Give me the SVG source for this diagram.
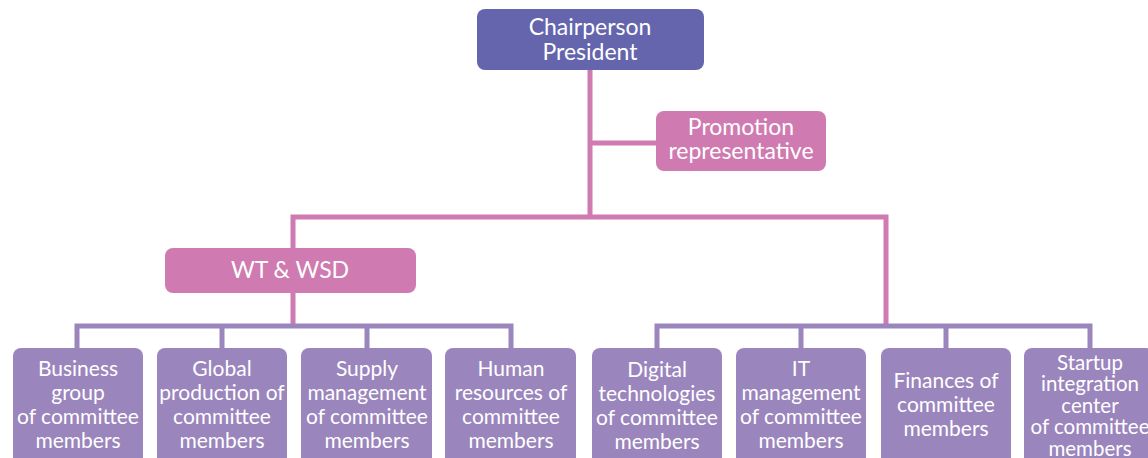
<svg xmlns="http://www.w3.org/2000/svg" width="1148" height="458" viewBox="0 0 1148 458">
<style>
text{font-family:"Lato","Noto Sans","Liberation Sans",sans-serif;fill:#ffffff;text-anchor:middle}
.t{font-size:23px}
.b{font-size:21px}
.s{font-size:20.5px}
.pk{stroke:#cf7bb1;stroke-width:5;fill:none}
.pu{stroke:#9b85bd;stroke-width:5;fill:none}
.nb{fill:#9b85bd}
.np{fill:#cf7bb1}
.nt{fill:#6565ad}
</style>
<rect width="1148" height="458" fill="#ffffff"/>
<g id="connectors">
<path class="pk" d="M590 70V217M590 143H656M293 248V217H886V326M293 293V326"/>
<path class="pu" d="M77 348V326H511V348M222 326V348M367 326V348"/>
<path class="pu" d="M657 348V326H1090V348M801 326V348M946 326V348"/>
</g>
<g id="chair"><rect class="nt" x="477" y="9" width="227" height="61" rx="8"/><text class="t" x="590" y="35">Chairperson</text><text class="t" x="590" y="60">President</text></g>
<g id="promotion"><rect class="np" x="656" y="111" width="170" height="60" rx="8"/><text class="t" x="741" y="135">Promotion</text><text class="t" x="741" y="159">representative</text></g>
<g id="wt"><rect class="np" x="165" y="248" width="251" height="45" rx="8"/><text class="t" x="290" y="278">WT &amp; WSD</text></g>
<g id="business"><rect class="nb" x="13" y="348" width="130" height="120" rx="8"/><text class="b" x="78" y="376">Business</text><text class="b" x="78" y="400">group</text><text class="b" x="78" y="424">of committee</text><text class="b" x="78" y="448">members</text></g>
<g id="global"><rect class="nb" x="157" y="348" width="130" height="120" rx="8"/><text class="b" x="222" y="376">Global</text><text class="b" x="222" y="400">production of</text><text class="b" x="222" y="424">committee</text><text class="b" x="222" y="448">members</text></g>
<g id="supply"><rect class="nb" x="301" y="348" width="131" height="120" rx="8"/><text class="b" x="367" y="376">Supply</text><text class="b" x="367" y="400">management</text><text class="b" x="367" y="424">of committee</text><text class="b" x="367" y="448">members</text></g>
<g id="human"><rect class="nb" x="445" y="348" width="131" height="120" rx="8"/><text class="b" x="511" y="376">Human</text><text class="b" x="511" y="400">resources of</text><text class="b" x="511" y="424">committee</text><text class="b" x="511" y="448">members</text></g>
<g id="digital"><rect class="nb" x="592" y="348" width="130" height="120" rx="8"/><text class="b" x="657" y="377">Digital</text><text class="b" x="657" y="401">technologies</text><text class="b" x="657" y="425">of committee</text><text class="b" x="657" y="449">members</text></g>
<g id="itm"><rect class="nb" x="736" y="348" width="130" height="120" rx="8"/><text class="b" x="801" y="376">IT</text><text class="b" x="801" y="400">management</text><text class="b" x="801" y="424">of committee</text><text class="b" x="801" y="448">members</text></g>
<g id="finances"><rect class="nb" x="881" y="348" width="130" height="120" rx="8"/><text class="b" x="946" y="388">Finances of</text><text class="b" x="946" y="412">committee</text><text class="b" x="946" y="436">members</text></g>
<g id="startup"><rect class="nb" x="1024" y="348" width="130" height="120" rx="8"/><text class="s" x="1090" y="370">Startup</text><text class="s" x="1090" y="391">integration</text><text class="s" x="1090" y="413">center</text><text class="s" x="1090" y="434">of committee</text><text class="s" x="1090" y="456">members</text></g>
</svg>
